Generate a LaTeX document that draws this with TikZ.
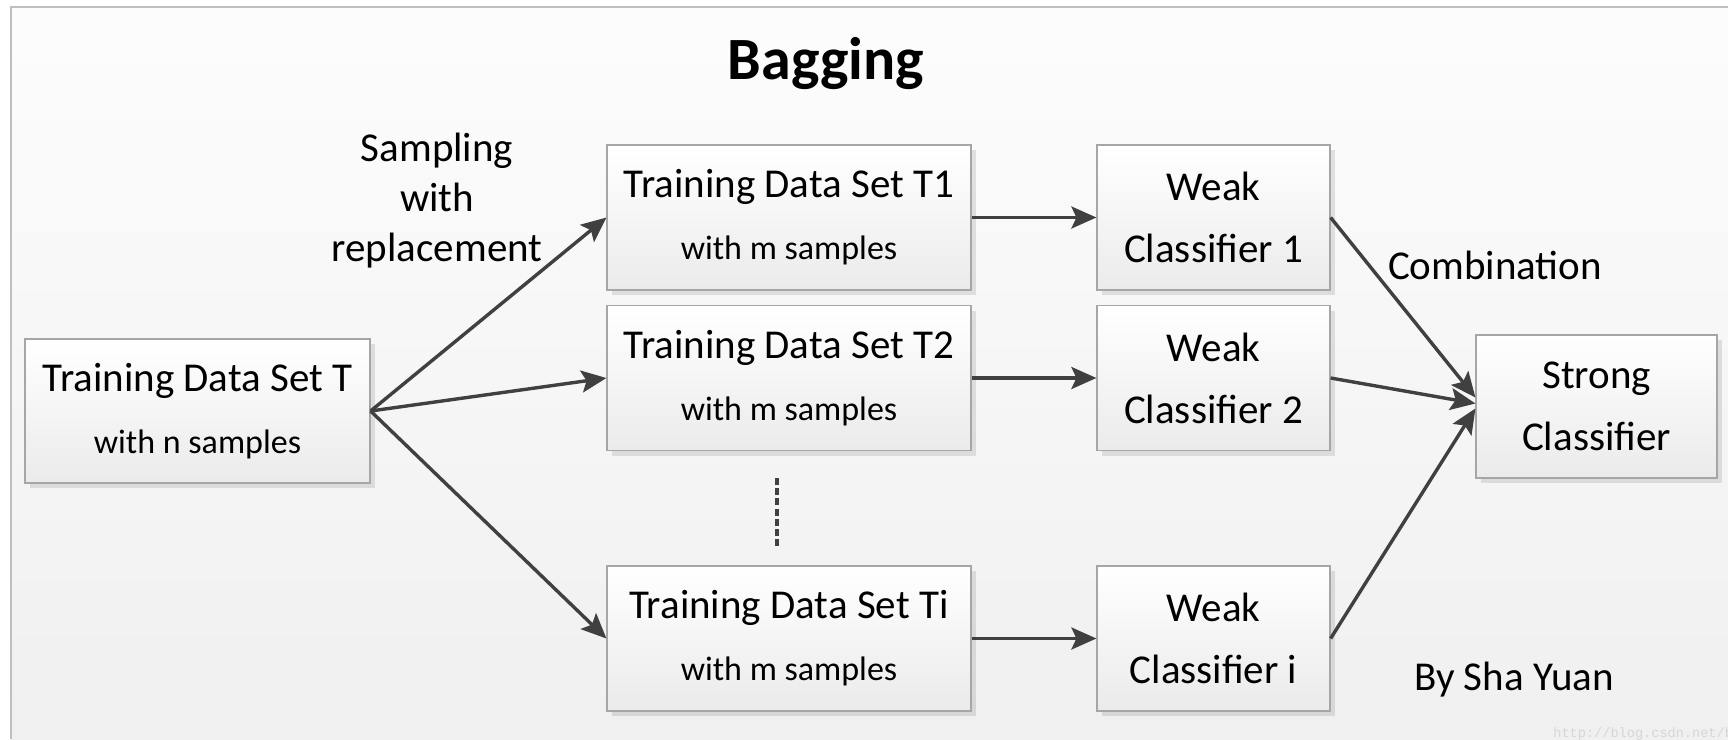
\documentclass[tikz,border=0pt]{standalone}
\usepackage{fontspec}
\setmainfont{Carlito}
\newfontfamily\wmfont{Liberation Mono}
\usetikzlibrary{arrows.meta,shadows}
\begin{document}
\begin{tikzpicture}[x=0.5pt,y=-0.5pt,
  box/.style={draw=black!35, line width=0.6pt, top color=white, bottom color=black!8,
    drop shadow={shadow xshift=2.5pt, shadow yshift=-2.5pt, fill=black, opacity=0.1},
    align=center, inner sep=0pt, font=\fontsize{20.5}{31}\selectfont},
  srcbox/.style={box, minimum width=172.5pt, minimum height=72pt},
  databox/.style={box, minimum width=182pt, minimum height=72.5pt},
  weakbox/.style={box, minimum width=116.5pt, minimum height=72.5pt},
  strongbox/.style={box, minimum width=120.5pt, minimum height=71.5pt},
  conn/.style={draw=black!75, line width=1.7pt, -{Stealth[length=12.5pt,width=11pt,inset=2.5pt]}},
  plain/.style={font=\fontsize{20.5}{25}\selectfont, align=center, inner sep=0pt},
  dotline/.style={draw=black!75, line width=1.7pt, dash pattern=on 3.5pt off 1.6pt}
]
\useasboundingbox (0,0) rectangle (1728,739);
\fill[white] (0,0) rectangle (1728,739);
\shade[top color=black!1, bottom color=black!6] (11,7) rectangle (1728,739);
\draw[black!25, line width=1pt] (11,739) -- (11,7) -- (1728,7);

\node[font=\fontsize{30}{36}\selectfont\bfseries, inner sep=0pt] (title) at (826,64) {Bagging};

\node[srcbox] (T) at (197.5,411) {Training Data Set T\\{\fontsize{17}{31}\selectfont with n samples}};
\node[databox] (T1) at (789,217.5) {Training Data Set T1\\{\fontsize{17}{31}\selectfont with m samples}};
\node[databox] (T2) at (789,378) {Training Data Set T2\\{\fontsize{17}{31}\selectfont with m samples}};
\node[databox] (Ti) at (789,638.5) {Training Data Set Ti\\{\fontsize{17}{31}\selectfont with m samples}};

\node[weakbox] (W1) at (1213.5,217.5) {Weak\\Classifier 1};
\node[weakbox] (W2) at (1213.5,378) {Weak\\Classifier 2};
\node[weakbox] (Wi) at (1213.5,638.5) {Weak\\Classifier i};

\node[strongbox] (S) at (1596.5,406.5) {Strong\\Classifier};

\node[plain] (samp) at (437,201) {Sampling\\with\\replacement};
\node[plain] (comb) at (1495,265) {Combination};
\node[plain] (by) at (1514,680) {By Sha Yuan};

\coordinate (d1) at (777,478);
\coordinate (d2) at (777,548);
\draw[dotline] (d1) -- (d2);

\draw[conn] (T.east) -- (T1.west);
\draw[conn] (T.east) -- (T2.west);
\draw[conn] (T.east) -- (Ti.west);
\draw[conn] (T1.east) -- (W1.west);
\draw[conn] (T2.east) -- (W2.west);
\draw[conn] (Ti.east) -- (Wi.west);
\draw[conn] (W1.east) -- ([yshift=4.5pt]S.west);
\draw[conn] (W2.east) -- ([yshift=1.5pt]S.west);
\draw[conn] (Wi.east) -- ([yshift=-1pt]S.west);

\begin{scope}
\clip (0,0) rectangle (1728,739);
\node[anchor=base west, inner sep=0pt, font=\wmfont\fontsize{6.8}{8}\selectfont, text=black!16] (wm) at (1553,737) {http://blog.csdn.net/bymaymay};
\end{scope}
\end{tikzpicture}
\end{document}
